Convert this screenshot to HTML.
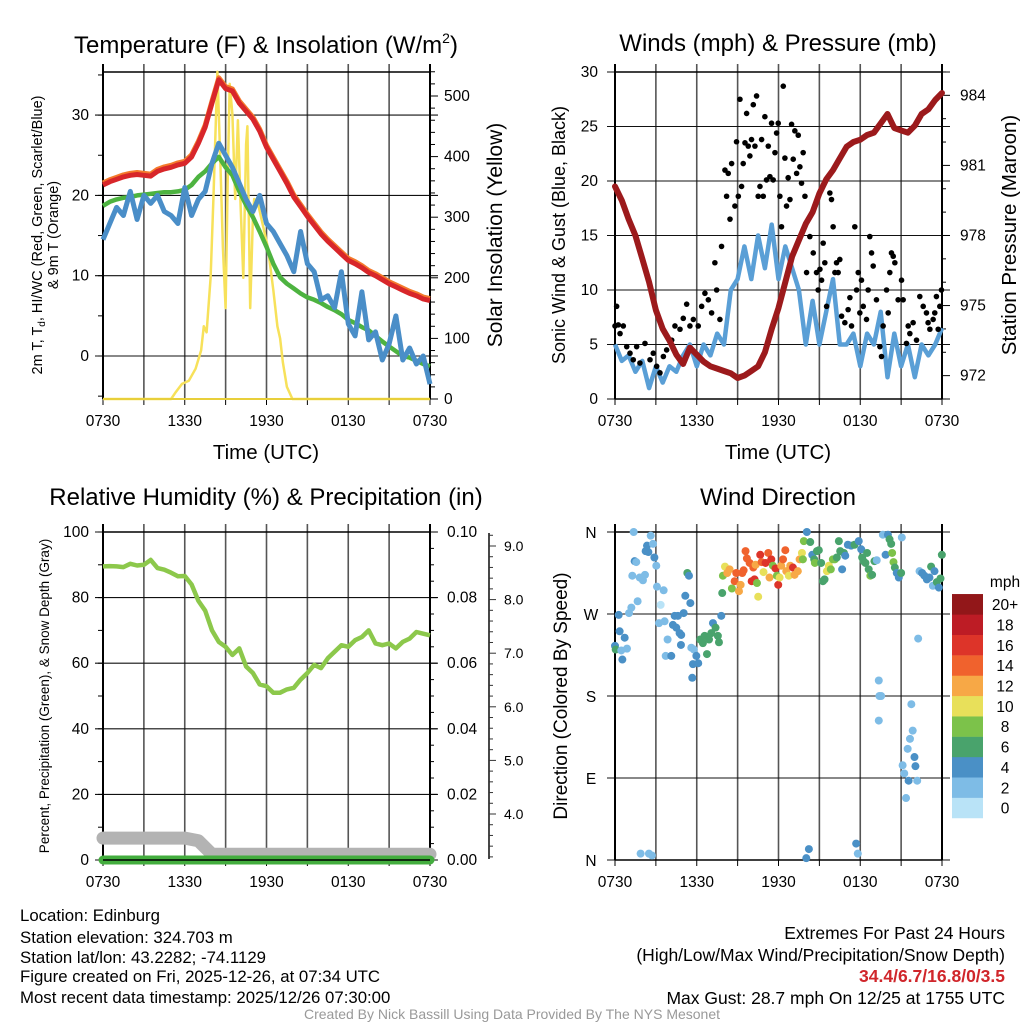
<!DOCTYPE html>
<html><head><meta charset="utf-8"><style>
html,body{margin:0;padding:0;background:#fff}
svg{display:block;font-family:"Liberation Sans",sans-serif}
</style></head><body>
<svg id="fig" width="1024" height="1024" viewBox="0 0 1024 1024" xmlns="http://www.w3.org/2000/svg">
<g id="layer-under"></g>
<text x="266" y="53" font-size="24" text-anchor="middle">Temperature (F) &amp; Insolation (W/m<tspan font-size="14" dy="-10">2</tspan><tspan dy="10">)</tspan></text>
<text x="778" y="51" font-size="24" text-anchor="middle">Winds (mph) &amp; Pressure (mb)</text>
<text x="266" y="505" font-size="24" text-anchor="middle">Relative Humidity (%) &amp; Precipitation (in)</text>
<text x="778" y="505" font-size="24" text-anchor="middle">Wind Direction</text>

<text transform="translate(42,235) rotate(-90)" font-size="14.5" text-anchor="middle">2m T, T<tspan font-size="10" dy="3">d</tspan><tspan dy="-3">, HI/WC (Red, Green, Scarlet/Blue)</tspan></text>
<text transform="translate(58,235) rotate(-90)" font-size="14.5" text-anchor="middle">&amp; 9m T (Orange)</text>
<text transform="translate(502,235) rotate(-90)" font-size="21" text-anchor="middle">Solar Insolation (Yellow)</text>
<text x="266" y="459" font-size="20.5" text-anchor="middle">Time (UTC)</text>

<text transform="translate(565,235) rotate(-90)" font-size="18" text-anchor="middle">Sonic Wind &amp; Gust (Blue, Black)</text>
<text transform="translate(1016,235) rotate(-90)" font-size="20.5" text-anchor="middle">Station Pressure (Maroon)</text>
<text x="778" y="459" font-size="20.5" text-anchor="middle">Time (UTC)</text>

<text transform="translate(49,696) rotate(-90)" font-size="13.5" text-anchor="middle">Percent, Precipitation (Green), &amp; Snow Depth (Gray)</text>
<text transform="translate(567,696) rotate(-90)" font-size="19" text-anchor="middle">Direction (Colored By Speed)</text>

<g font-size="16.8">
<text x="20" y="921">Location: Edinburg</text>
<text x="20" y="943">Station elevation: 324.703 m</text>
<text x="20" y="963">Station lat/lon: 43.2282; -74.1129</text>
<text x="20" y="982">Figure created on Fri, 2025-12-26, at 07:34 UTC</text>
<text x="20" y="1003">Most recent data timestamp: 2025/12/26 07:30:00</text>
</g>
<g font-size="17.5" text-anchor="end">
<text x="1005" y="939">Extremes For Past 24 Hours</text>
<text x="1005" y="961">(High/Low/Max Wind/Precipitation/Snow Depth)</text>
<text x="1005" y="982" font-weight="bold" fill="#d0262b">34.4/6.7/16.8/0/3.5</text>
<text x="1005" y="1004">Max Gust: 28.7 mph On 12/25 at 1755 UTC</text>
</g>
<text x="512" y="1019" font-size="14" fill="#999" text-anchor="middle">Created By Nick Bassill Using Data Provided By The NYS Mesonet</text>
</svg>
<script>
// ---------- data ----------
const timeLabels = ["0730","1330","1930","0130","0730"];
const tempRed = [21.3,21.7,22.0,22.3,22.5,22.6,22.5,22.4,23.0,23.3,23.5,23.8,24.0,24.8,26.5,28.5,31.5,34.4,33.3,33.0,31.5,30.5,29.5,28.0,26.0,24.5,23.0,21.5,19.8,18.6,17.4,16.3,15.2,14.3,13.5,12.7,11.9,11.5,11.0,10.4,10.0,9.5,9.0,8.6,8.2,7.8,7.5,7.1,6.9];
const tempGreen = [18.7,19.2,19.5,19.7,19.8,20.0,20.1,20.2,20.3,20.4,20.4,20.5,20.7,21.3,22.3,23.0,24.0,24.8,23.5,22.5,20.5,18.8,17.3,15.5,13.6,11.5,9.8,9.0,8.4,7.8,7.3,7.0,6.6,6.1,5.7,5.2,4.5,4.1,3.6,3.2,2.5,1.8,1.2,0.6,0.0,-0.2,-0.6,-1.0,-1.3];
const tempBlue = [14.5,16.5,18.5,17.5,20.5,17,20,19,20,18,17.5,16.5,21,17.5,19.5,20.5,24,26.5,25,23.5,21.5,19.5,18,20,16.5,15.5,14,12.5,10.5,15.5,11.5,10.5,7,7.5,6,10.5,4,2.5,8,2,3,-0.5,1.5,5,-0.5,1,-1,0,-3.5];
const solarHours = [0,5,5.3,5.8,6.3,6.8,7.2,7.4,7.6,7.9,8.1,8.4,8.6,8.8,9.0,9.15,9.3,9.5,9.7,9.9,10.1,10.3,10.5,10.6,10.8,11.0,11.1,11.4,11.8,12.1,12.5,12.8,13.0,13.2,13.5,13.9,24];
const solarValues = [0,0,10,25,30,50,80,120,110,200,330,540,400,250,150,360,520,470,330,460,320,200,420,450,150,300,330,320,280,250,180,120,100,60,20,0,0];
const windSpeed = [5,3.5,4,2.5,3.5,1,3,1.5,3,2.5,4,5,3,5,4,6,5,10,11,14,11,15,12,16,11,14,12,10,5,9,5,8,11,5,5,6,3,6,5,8,2,6,3,5,2,5,4,5,6.5];
const pressure = [980.1,979.5,978.7,978.0,977.0,976.0,974.8,974.0,973.5,972.9,972.5,973.2,972.9,972.6,972.4,972.3,972.2,972.1,971.9,972.0,972.2,972.4,973.0,974.0,974.9,976.0,977.1,977.8,978.5,979.0,979.8,980.4,980.8,981.3,981.8,982.0,982.1,982.3,982.4,982.8,983.2,982.6,982.5,982.4,982.7,983.2,983.4,983.8,984.1];
const gustHours = [0,.12,.24,.37,.61,.86,1.1,1.34,1.59,1.83,2.2,2.57,2.81,3.06,3.3,3.55,3.79,4.16,4.4,4.77,5.01,5.26,5.5,5.75,6.11,6.36,6.6,6.85,7.09,7.33,7.46,7.7,7.82,8.07,8.19,8.31,8.44,8.56,8.8,8.92,9.05,9.17,9.29,9.41,9.54,9.66,9.78,9.9,10.02,10.15,10.27,10.39,10.51,10.64,10.76,10.88,11.0,11.12,11.25,11.37,11.49,11.61,11.74,11.86,11.98,12.1,12.22,12.35,12.47,12.59,12.71,12.84,12.96,13.08,13.2,13.33,13.45,13.57,13.69,13.81,13.94,14.06,14.3,14.55,14.67,14.79,14.91,15.04,15.16,15.28,15.4,15.53,15.77,15.89,16.01,16.14,16.26,16.38,16.5,16.63,16.87,17.11,17.24,17.36,17.6,17.73,17.85,17.97,18.09,18.22,18.46,18.58,18.7,18.83,18.95,19.19,19.44,19.56,19.68,19.93,20.05,20.17,20.29,20.42,20.54,20.78,21.03,21.15,21.39,21.52,21.64,21.88,22.13,22.37,22.62,22.86,22.98,23.11,23.35,23.47,23.59,23.72,23.84,23.96];
const gustValues = [6.7,8.5,6.8,6,6.7,4.8,4.2,3.6,4.8,3.3,5.1,3.6,4.2,3,2.4,3.9,4.5,5.4,6.7,6.4,7.4,8.7,6.7,7.3,6.7,8.5,9.7,9.1,7.9,12.5,10,7.3,14,21,18.6,20.7,16.5,21.6,17.7,23.6,18.6,27.5,19.5,21.6,23.5,26.2,23.2,22.3,23.8,27,23.2,27.8,18.6,19.5,23.8,18.6,25.9,20.1,23.2,20.4,25.3,20.1,22.6,24.4,25.3,18.6,15.8,28.7,22.1,17.7,20.3,18.3,25.2,22,24.6,20.7,24.2,21.3,19.8,22.6,18.6,11.6,14.9,13.4,17.7,11.6,10,11.9,10.9,14.3,12.5,8.5,18.9,18.3,15.8,11.6,12.5,11.6,12.8,7.6,7,8.2,9.3,6.7,15.8,10,11.6,7.9,10.9,8.5,7.3,10,14.9,13.4,12.2,9.1,4.8,3.9,6.7,10,7.9,11.6,13.4,13.1,12.5,9.1,10.9,9.1,5.1,6.7,6,7,5.4,9.4,8.5,7.9,7,6.4,7.3,7.9,9.4,6.4,8.5,10];
const humidity = [89.5,89.6,89.5,89.3,90.3,89.8,90.0,91.5,89.0,88.5,87.6,86.5,86.6,84.0,79.0,76.0,70.0,66.5,65.0,62.5,64.5,59.0,57.0,53.5,53.0,51.0,51.0,52.0,52.5,55.0,57.0,59.5,58.5,61.5,63.5,65.5,65.0,67.0,68.0,70.0,66.0,65.5,66.0,64.5,66.5,67.5,69.5,69.0,68.5];
const precip = [0,0,0,0,0,0,0,0,0,0,0,0,0,0,0,0,0,0,0,0,0,0,0,0,0];
const snowDepth = [3.55,3.55,3.55,3.55,3.55,3.55,3.55,3.5,3.25,3.25,3.25,3.25,3.25,3.25,3.25,3.25,3.25,3.25,3.25,3.25,3.25,3.25,3.25,3.25,3.25];
const dirHours = [0,0.05,0.27,0.34,0.46,0.54,0.71,0.88,1.03,1.2,1.37,1.44,1.56,1.27,1.66,1.81,2.05,2.2,2.25,2.35,2.45,2.62,2.79,2.89,3.03,1.88,2.49,2.71,3.08,3.35,3.57,3.23,3.64,3.86,3.72,4.13,4.25,4.38,4.5,4.62,4.74,4.86,5.04,4.84,5.16,5.31,5.43,5.53,5.6,5.79,5.72,5.67,5.97,6.11,6.26,6.45,6.58,6.75,6.9,7.07,7.19,7.38,7.55,7.63,7.8,7.87,7.92,8.07,8.24,8.41,8.58,8.78,8.9,9.1,9.22,9.34,9.44,9.58,9.68,9.88,10.03,10.15,10.24,10.32,10.42,10.51,10.66,10.76,10.9,11.05,11.25,11.34,11.47,11.59,11.78,11.88,11.98,12.08,12.2,12.33,12.5,12.57,12.76,12.86,13.06,13.18,13.42,13.55,13.72,13.79,13.86,14.08,14.23,14.04,14.33,14.48,14.62,14.67,14.82,14.96,15.13,15.26,15.38,15.55,15.7,15.84,15.99,16.14,16.28,16.43,16.53,16.67,16.8,16.9,17.09,17.33,17.58,17.7,17.82,17.89,18.07,18.14,18.24,18.38,18.5,18.62,18.74,18.87,19.04,19.21,19.36,19.41,19.53,19.36,19.66,19.86,20.03,20.15,20.27,20.34,20.44,20.54,20.68,20.83,21.0,21.05,21.11,21.23,21.36,21.48,21.55,21.65,21.75,21.85,21.98,22.05,22.18,22.25,22.35,22.54,22.71,22.89,23.08,23.2,23.33,23.45,23.62,23.77,23.89,23.99];
const dirValues = [235,231,269,251,230,220,244,232,271,277,360,328,327,312,284,310,307,313,339,345,338,356,347,332,323,7,7,5,300,280,296,260,262,242,224,224,258,268,255,268,249,247,271,236,290,315,312,282,233,231,215,200,224,216,242,238,246,226,242,249,260,255,246,239,268,293,312,322,315,319,298,306,315,295,302,315,318,339,331,326,306,321,308,324,304,289,335,327,316,326,337,310,330,323,320,312,302,310,323,330,340,317,312,323,321,313,317,330,337,330,350,360,12,2,349,335,330,326,339,340,326,306,308,317,323,319,330,330,332,350,339,319,337,334,346,345,346,18,7,350,341,332,328,326,337,319,312,313,328,329,197,180,180,153,357,335,357,352,347,337,327,321,315,310,315,354,104,95,68,122,87,133,171,142,113,103,87,243,317,315,312,308,310,322,301,317,305,299,309,335];
const dirSpeeds = [5,7,5,5,3,5,5,3,3,3,3,5,3,3,3,3,3,3,5,5,5,3,3,5,3,3,3,3,3,1,3,3,3,3,3,5,5,5,5,5,5,5,5,5,5,7,5,5,3,3,5,5,5,5,7,7,7,7,7,7,5,7,7,7,5,7,9,11,13,13,9,15,15,13,13,15,15,15,15,15,17,15,17,13,9,11,17,15,11,17,15,13,17,9,17,9,17,11,13,15,15,13,11,13,17,13,13,13,11,9,9,5,5,5,7,5,7,9,7,7,7,7,7,11,11,9,9,9,7,7,7,5,7,5,5,5,7,5,3,5,5,7,7,7,7,7,9,7,7,3,3,3,3,3,3,5,5,7,7,9,9,7,5,5,7,3,3,3,3,3,5,3,3,3,5,5,3,3,3,5,5,5,5,7,3,5,7,5,7,7];
const speedBins = ["0","2","4","6","8","10","12","14","16","18","20+"];
const speedColors = ["#b9e3f7","#7ebce6","#4a90c6","#49a36c","#7cc24a","#e8e05a","#f7a846","#f0622d","#dd3429","#bd1c25","#921719"];

// ---------- axes ----------
const SVGNS="http://www.w3.org/2000/svg";
const root=document.getElementById('layer-under');
function el(tag,attrs,parent){const e=document.createElementNS(SVGNS,tag);for(const k in attrs)e.setAttribute(k,attrs[k]);(parent||root).appendChild(e);return e;}
const xL=h=>103+h*327/24, xR=h=>615+h*327/24;
const yTemp=v=>356-v*8.03, ySolar=v=>399-v*0.606;
const yWind=v=>399-v*10.9, yPres=p=>399-(p-971)*23.36;
const yRH=v=>860-v*3.28, yPrecip=v=>860-v*3280, ySnow=v=>814-(v-4)*53.6;
const yDir=d=>860-d*328/360;
function path(xs,ys){return xs.map((x,i)=>(i?'L':'M')+x.toFixed(1)+','+ys[i].toFixed(1)).join('');}

function frame(x0,x1,y0,y1,hLines,name){
  const g=el('g',{});
  
  
  for(let k=1;k<8;k++){const x=x0+k*(x1-x0)/8;
    const l=el('line',{x1:x,x2:x,y1:y0-8,y2:y1,stroke:'#555','stroke-width':1.6},g);
    
    }
  hLines.forEach(y=>{const l=el('line',{x1:x0-8,x2:x1+8,y1:y,y2:y,stroke:'#111','stroke-width':1.1},g);
    
    });
  el('line',{x1:x0,x2:x0,y1:y0-8,y2:y1,stroke:'#000','stroke-width':2},g);
  el('line',{x1:x1,x2:x1,y1:y0-8,y2:y1,stroke:'#000','stroke-width':2},g);
  el('line',{x1:x0,x2:x1,y1:y0,y2:y0,stroke:'#000','stroke-width':1.5},g);
  el('line',{x1:x0,x2:x1,y1:y1,y2:y1,stroke:'#000','stroke-width':1.5},g);
  timeLabels.forEach((t,i)=>{const tx=el('text',{x:x0+i*(x1-x0)/4,y:y1+27,'font-size':15.5,'text-anchor':'middle'},g);tx.textContent=t;
    
    });
  for(let k=0;k<=8;k++){el('line',{x1:x0+k*(x1-x0)/8,x2:x0+k*(x1-x0)/8,y1:y1,y2:y1+6,stroke:'#000','stroke-width':1},g);}
  return g;
}
function label(x,y,t,anchor,size,name){const e=el('text',{x:x,y:y,'font-size':size||15,'text-anchor':anchor});e.textContent=t;
  
  }

// panel 1
frame(103,430,72,399,[0,10,20,30].map(yTemp),'temperature');
[0,10,20,30].forEach(v=>label(89,yTemp(v)+5,String(v),'end',15.5,'temp-tick-label'));
for(let v=-5;v<=35;v+=5)el('line',{x1:98,x2:103,y1:yTemp(v),y2:yTemp(v),stroke:'#000'});
for(let v=0;v<=540;v+=20)el('line',{x1:430,x2:v%100?435:438,y1:ySolar(v),y2:ySolar(v),stroke:'#000'});
[0,100,200,300,400,500].forEach(v=>label(444,ySolar(v)+5,String(v),'start',15.5,'solar-tick-label'));
const hx=tempRed.map((_,i)=>xL(i*0.5));
let p;
p=el('path',{d:path(solarHours.map(xL),solarValues.map(ySolar)),fill:'none',stroke:'#f7e15a','stroke-width':2.5,'stroke-linejoin':'round'});


p=el('path',{d:path(hx,tempGreen.map(yTemp)),fill:'none',stroke:'#4db340','stroke-width':4.5,'stroke-linejoin':'round'});


p=el('path',{d:path(hx,tempBlue.map(yTemp)),fill:'none',stroke:'#4a8ec8','stroke-width':5,'stroke-linejoin':'round'});


p=el('path',{d:path(hx,tempRed.map(v=>yTemp(v+0.25))),fill:'none',stroke:'#f47a2c','stroke-width':5,'stroke-linejoin':'round'});


p=el('path',{d:path(hx,tempRed.map(yTemp)),fill:'none',stroke:'#d8262a','stroke-width':5,'stroke-linejoin':'round'});


el('line',{x1:103,x2:430,y1:399,y2:399,stroke:'#e8cf3a','stroke-width':2});

// panel 2
frame(615,942,72,399,[0,5,10,15,20,25,30].map(yWind),'wind');
[0,5,10,15,20,25,30].forEach(v=>label(598,yWind(v)+5,String(v),'end',15.5,'wind-tick-label'));
for(let v=971;v<=985;v++)el('line',{x1:942,x2:v%3===0?950:946,y1:yPres(v),y2:yPres(v),stroke:'#000'});
[972,975,978,981,984].forEach(v=>label(960,yPres(v)+5,String(v),'start',15.5,'pressure-tick-label'));
p=el('path',{d:path(windSpeed.map((_,i)=>xR(i*0.5)),windSpeed.map(yWind)),fill:'none',stroke:'#5a9fd6','stroke-width':4.5,'stroke-linejoin':'round'});


gustHours.forEach((h,i)=>{const c=el('circle',{cx:xR(h),cy:yWind(gustValues[i]),r:2.8,fill:'#000'});
  
  });
p=el('path',{d:path(pressure.map((_,i)=>xR(i*0.5)),pressure.map(yPres)),fill:'none',stroke:'#9c1a1c','stroke-width':6,'stroke-linejoin':'round','stroke-linecap':'round'});



// panel 3
frame(103,430,532,860,[0,20,40,60,80,100].map(yRH),'humidity');
[0,20,40,60,80,100].forEach(v=>label(89,yRH(v)+5,String(v),'end',15.5,'rh-tick-label'));
for(let v=0;v<=100;v+=10)el('line',{x1:98,x2:103,y1:yRH(v),y2:yRH(v),stroke:'#000'});
for(let v=0;v<=0.1001;v+=0.005)el('line',{x1:430,x2:Math.round(v*1000)%20?434:437,y1:yPrecip(v),y2:yPrecip(v),stroke:'#000'});
["0.00","0.02","0.04","0.06","0.08","0.10"].forEach(t=>label(447,yPrecip(+t)+5,t,'start',15.5,'precip-tick-label'));
el('line',{x1:489,x2:489,y1:533,y2:859,stroke:'#333','stroke-width':1.8});
for(let v=3.2;v<=9.25;v+=0.2)el('line',{x1:489,x2:Math.abs(v-Math.round(v))<0.01?496:493,y1:ySnow(v),y2:ySnow(v),stroke:'#333'});
["4.0","5.0","6.0","7.0","8.0","9.0"].forEach(t=>label(504,ySnow(+t)+5,t,'start',14,'snow-tick-label'));
p=el('path',{d:path(snowDepth.map((_,i)=>xL(i)),snowDepth.map(ySnow)),fill:'none',stroke:'#b3b3b3','stroke-width':13,'stroke-linejoin':'round','stroke-linecap':'round'});


p=el('path',{d:path(precip.map((_,i)=>xL(i)),precip.map(yPrecip)),fill:'none',stroke:'#43ad3e','stroke-width':9,'stroke-linecap':'round'});


p=el('path',{d:path(humidity.map((_,i)=>xL(i*0.5)),humidity.map(yRH)),fill:'none',stroke:'#8cc84b','stroke-width':4.5,'stroke-linejoin':'round'});


el('line',{x1:103,x2:430,y1:860,y2:860,stroke:'#000','stroke-width':1.5});

// panel 4
frame(615,942,532,860,[0,90,180,270,360].map(yDir),'direction');
["N","E","S","W","N"].forEach((t,i)=>label(591,yDir(i*90)+6,t,'middle',15.5,'direction-tick-label'));
dirHours.forEach((h,i)=>{const s=dirSpeeds[i];const bin=Math.min(10,Math.floor(s/2));
  const c=el('circle',{cx:xR(h),cy:yDir(dirValues[i]),r:4,fill:speedColors[bin]});
  
  });
// colorbar
label(1005,587,'mph','middle',15.5,'colorbar-title');
speedBins.forEach((b,i)=>{const y=818-(i+1)*20.36;
  const r=el('rect',{x:952,y:y,width:31,height:20.6,fill:speedColors[i]});
  
  
  label(1005,y+16,b,'middle',15.5,'colorbar-label');});
</script>
</body></html>
